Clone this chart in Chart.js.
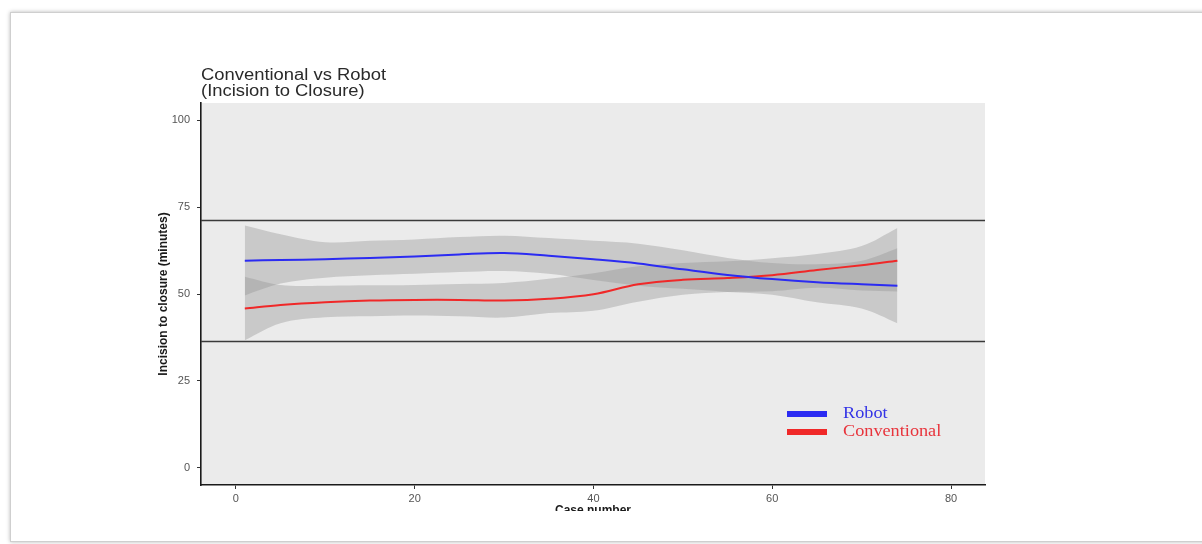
<!DOCTYPE html>
<html>
<head>
<meta charset="utf-8">
<script src="https://cdn.jsdelivr.net/npm/chart.js@4.4.1/dist/chart.umd.min.js"></script>
<style>
  html, body { margin: 0; padding: 0; background: #fff; width: 1202px; height: 544px; overflow: hidden; }
  #card { position: absolute; left: 10px; top: 12px; width: 1210px; height: 528px; background: #fff;
          border: 1px solid #cfcfcf; box-shadow: 0 0 4px rgba(0,0,0,0.28); }
  #crop { position: absolute; left: 0; top: 0; width: 1202px; height: 511px; overflow: hidden; }
  #wrap { position: absolute; left: 0; top: 0; width: 1202px; height: 530px; }
</style>
</head>
<body>
<div id="card"></div>
<div id="crop"><div id="wrap"><canvas id="c" width="1202" height="530"></canvas></div></div>
<script>
// Case numbers at which the smoothed fits are sampled
const caseNumbers = [1, 5, 10, 15, 20, 25, 30, 35, 40, 45, 50, 55, 60, 65, 70, 74];

// Robot: smoothed incision-to-closure time and its confidence band (minutes)
const robotFit   = [59.6, 59.8, 60.0, 60.4, 60.8, 61.4, 61.8, 61.0, 60.0, 58.8, 57.1, 55.5, 54.3, 53.4, 52.8, 52.4];
const robotUpper = [69.7, 67.2, 64.9, 65.3, 65.7, 66.4, 66.8, 66.1, 65.3, 64.5, 62.6, 60.4, 58.9, 58.6, 59.6, 63.2];
const robotLower = [49.6, 53.0, 54.7, 55.4, 55.8, 56.3, 56.6, 55.8, 54.0, 52.4, 51.5, 50.6, 49.8, 47.6, 45.8, 41.6];

// Conventional: smoothed incision-to-closure time and its confidence band (minutes)
const convFit    = [45.8, 46.8, 47.6, 48.1, 48.3, 48.3, 48.1, 48.6, 49.9, 52.8, 54.1, 54.6, 55.4, 56.9, 58.3, 59.6];
const convUpper  = [55.0, 52.6, 52.4, 52.5, 52.6, 52.9, 53.2, 54.4, 56.0, 58.0, 58.9, 59.4, 60.3, 61.5, 63.8, 69.0];
const convLower  = [36.7, 41.6, 43.3, 43.6, 43.8, 43.6, 43.2, 44.5, 45.2, 47.8, 49.8, 50.6, 50.8, 51.8, 51.0, 50.7];

// Series names, axis ticks and horizontal reference levels
const seriesNames = ['Robot', 'Conventional'];
const xTicks = [0, 20, 40, 60, 80];
const yTicks = [0, 25, 50, 75, 100];
const referenceLevels = [71.4, 36.5];

const titleLines = ['Conventional vs Robot', '(Incision to Closure)'];

const pts = (ys) => caseNumbers.map((x, i) => ({ x: x, y: ys[i] }));

const bandFill = 'rgba(150,150,150,0.4)';
const robotColor = '#2b2bf2';
const convColor = '#f02828';
const smooth = 0.35;

const band = (data, fill) => ({
  data: pts(data), fill: fill, backgroundColor: bandFill, borderWidth: 0,
  pointRadius: 0, tension: smooth, order: 3
});

// Panel background
const panelPlugin = {
  id: 'panel',
  beforeDraw(chart) {
    const { ctx, chartArea: a } = chart;
    ctx.save();
    ctx.fillStyle = '#ebebeb';
    ctx.fillRect(a.left, a.top, a.right - a.left, a.bottom - a.top);
    ctx.restore();
  }
};

// Horizontal reference rules, title and in-panel legend
const overlayPlugin = {
  id: 'overlay',
  afterDraw(chart) {
    const { ctx, chartArea: a, scales } = chart;
    ctx.save();
    ctx.strokeStyle = '#3a3a3a';
    ctx.lineWidth = 1.5;
    referenceLevels.forEach(v => {
      const y = Math.round(scales.y.getPixelForValue(v)) + 0.5;
      ctx.beginPath();
      ctx.moveTo(a.left, y);
      ctx.lineTo(a.right, y);
      ctx.stroke();
    });

    // title
    ctx.fillStyle = '#2a2a2a';
    ctx.font = '16px "Liberation Sans", Arial, sans-serif';
    ctx.textBaseline = 'alphabetic';
    titleLines.forEach((t, i) => {
      ctx.save();
      ctx.translate(a.left, a.top - 23 + i * 15.5);
      ctx.scale(1.15, 1);
      ctx.fillText(t, 0, 0);
      ctx.restore();
    });

    // legend
    const lineSets = chart.data.datasets.filter(d => d.label);
    lineSets.forEach((d, i) => {
      const yc = a.bottom - 71 + i * 18;
      ctx.fillStyle = d.borderColor;
      ctx.fillRect(a.right - 198, yc - 3, 40, 6);
      ctx.save();
      ctx.translate(a.right - 142, yc + 3.5);
      ctx.scale(1.14, 1);
      ctx.font = '16px "Liberation Serif", "Times New Roman", serif';
      ctx.fillStyle = d.legendText;
      ctx.fillText(d.label, 0, 0);
      ctx.restore();
    });
    ctx.restore();
  }
};

new Chart(document.getElementById('c'), {
  type: 'line',
  data: {
    datasets: [
      band(robotLower, false),
      band(robotUpper, '-1'),
      band(convLower, false),
      band(convUpper, '-1'),
      { label: seriesNames[0], data: pts(robotFit), borderColor: robotColor, legendText: '#3434e6',
        borderWidth: 2, pointRadius: 0, fill: false, tension: smooth, order: 1 },
      { label: seriesNames[1], data: pts(convFit), borderColor: convColor, legendText: '#e8343c',
        borderWidth: 2, pointRadius: 0, fill: false, tension: smooth, order: 1 }
    ]
  },
  options: {
    responsive: false,
    animation: false,
    devicePixelRatio: 1,
    layout: { padding: { left: 152, top: 103, right: 217, bottom: 0 } },
    plugins: { legend: { display: false }, tooltip: { enabled: false }, title: { display: false } },
    scales: {
      x: {
        type: 'linear', min: -3.9, max: 83.8,
        afterFit: (s) => { s.height = 45; },
        afterBuildTicks: (s) => { s.ticks = xTicks.map(v => ({ value: v })); },
        grid: { display: true, drawOnChartArea: false, drawTicks: true, tickLength: 4, color: '#333' },
        border: { display: true, color: '#1a1a1a', width: 1.6 },
        ticks: { color: '#555', font: { family: '"Liberation Sans", Arial, sans-serif', size: 11 }, padding: 3, maxRotation: 0 },
        title: { display: true, text: 'Case number', color: '#1a1a1a',
                 font: { family: '"Liberation Sans", Arial, sans-serif', size: 12, weight: 'bold' },
                 padding: { top: 0, bottom: 12 } }
      },
      y: {
        type: 'linear', min: -5, max: 105,
        afterFit: (s) => { s.width = 49; },
        afterBuildTicks: (s) => { s.ticks = yTicks.map(v => ({ value: v })); },
        grid: { display: true, drawOnChartArea: false, drawTicks: true, tickLength: 4, color: '#333' },
        border: { display: true, color: '#1a1a1a', width: 1.6 },
        ticks: { color: '#555', font: { family: '"Liberation Sans", Arial, sans-serif', size: 11 }, padding: 7 },
        title: { display: true, text: 'Incision to closure (minutes)', color: '#1a1a1a',
                 font: { family: '"Liberation Sans", Arial, sans-serif', size: 12, weight: 'bold' },
                 padding: { top: 4, bottom: 0 } }
      }
    }
  },
  plugins: [panelPlugin, overlayPlugin]
});
</script>
</body>
</html>
